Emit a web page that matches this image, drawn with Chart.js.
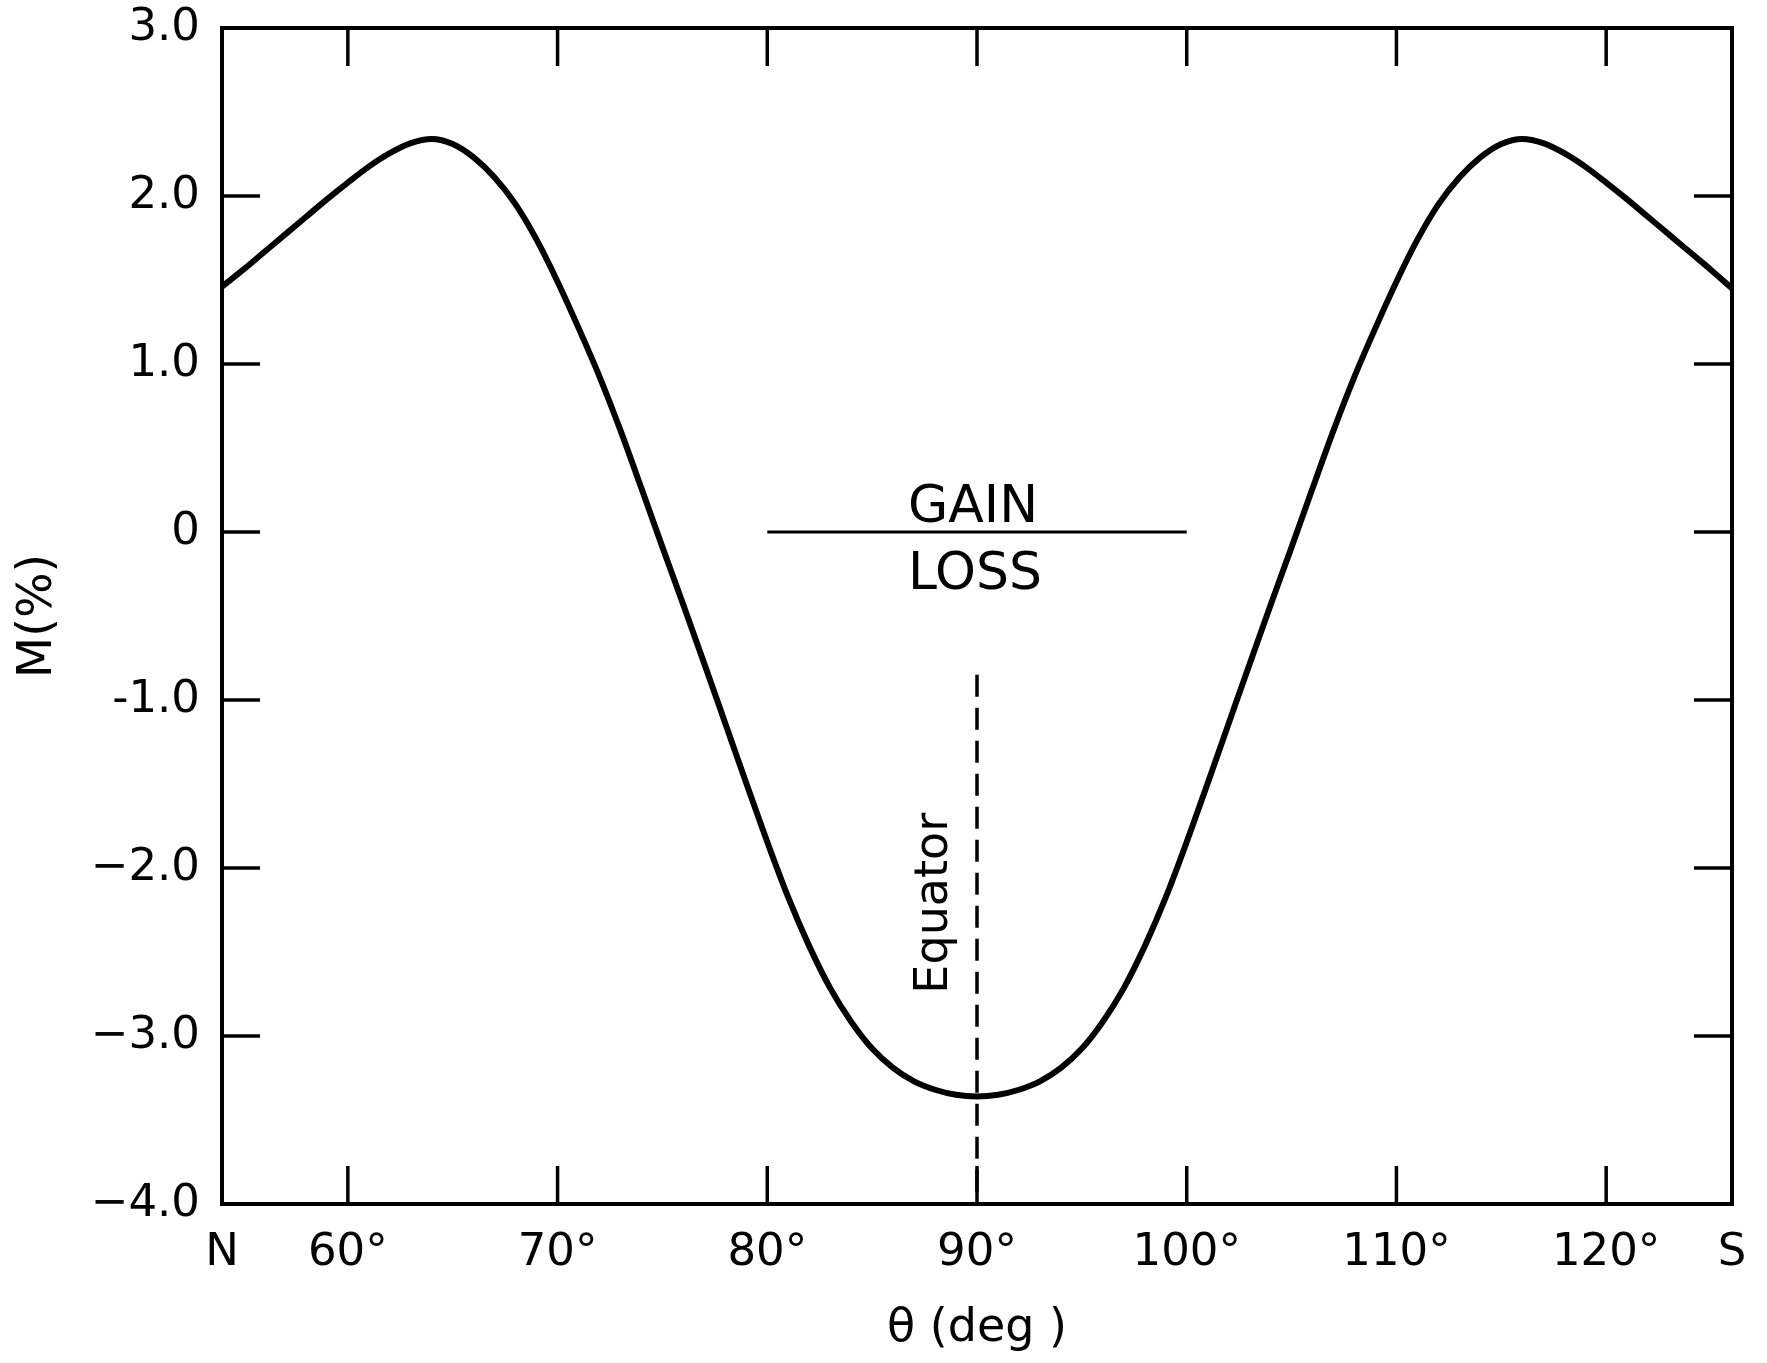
<!DOCTYPE html>
<html>
<head>
<meta charset="utf-8">
<script src="https://cdn.jsdelivr.net/npm/chart.js@4.4.0/dist/chart.umd.min.js"></script>
<style>
  html, body { margin: 0; padding: 0; background: #fff; }
  #wrap { width: 1767px; height: 1363px; }
</style>
</head>
<body>
<div id="wrap"><canvas id="chart" width="1767" height="1363"></canvas></div>
<script>
// theta (deg) and M (%)
const theta = [54, 55, 56, 57, 58, 59, 60, 61, 62, 63, 64, 65, 66, 67, 68, 69, 70, 71, 72, 73, 74, 75, 76, 77, 78, 79, 80, 81, 82, 83, 84, 85, 86, 87, 88, 89, 90,
  91, 92, 93, 94, 95, 96, 97, 98, 99, 100, 101, 102, 103, 104, 105, 106, 107, 108, 109, 110, 111, 112, 113, 114, 115, 116, 117, 118, 119, 120, 121, 122, 123, 124, 125, 126];
const mPercent = [1.46, 1.56, 1.665, 1.77, 1.875, 1.98, 2.08, 2.175, 2.255, 2.315, 2.34, 2.31, 2.23, 2.11, 1.95, 1.74, 1.49, 1.215, 0.925, 0.605, 0.26, -0.09, -0.435, -0.785, -1.14, -1.495, -1.845, -2.175, -2.465, -2.715, -2.915, -3.075, -3.19, -3.27, -3.32, -3.35, -3.36,
  -3.35, -3.32, -3.27, -3.19, -3.075, -2.915, -2.715, -2.465, -2.175, -1.845, -1.495, -1.14, -0.785, -0.435, -0.09, 0.26, 0.605, 0.925, 1.215, 1.49, 1.74, 1.95, 2.11, 2.23, 2.31, 2.34, 2.315, 2.255, 2.175, 2.08, 1.98, 1.875, 1.77, 1.665, 1.56, 1.45];

const xTickValues = [54, 60, 70, 80, 90, 100, 110, 120, 126];
const xTickLabels = ["N", "60°", "70°", "80°", "90°", "100°", "110°", "120°", "S"];
const yTickValues = [-4, -3, -2, -1, 0, 1, 2, 3];
const yTickLabels = ["\u22124.0", "\u22123.0", "\u22122.0", "-1.0", "0", "1.0", "2.0", "3.0"];

const gainLossX = [80, 100];
const gainLossY = [0, 0];
const equatorX = [90, 90];
const equatorY = [-0.85, -4.0];

const FONT = "'DejaVu Sans', sans-serif";

const toPoints = (xs, ys) => xs.map((x, i) => ({ x: x, y: ys[i] }));

// frame, inward ticks and the text notes
const framePlugin = {
  id: "frame",
  afterDatasetsDraw(chart) {
    const { ctx, chartArea: a, scales } = chart;
    const xs = scales.x, ys = scales.y;
    const tickLen = 38;
    ctx.save();
    ctx.strokeStyle = "#000";
    ctx.lineWidth = 4;
    ctx.strokeRect(a.left, a.top, a.right - a.left, a.bottom - a.top);

    ctx.lineWidth = 3.5;
    ctx.beginPath();
    xTickValues.slice(1, -1).forEach((v) => {
      const px = xs.getPixelForValue(v);
      ctx.moveTo(px, a.bottom);
      ctx.lineTo(px, a.bottom - tickLen);
      ctx.moveTo(px, a.top);
      ctx.lineTo(px, a.top + tickLen);
    });
    yTickValues.slice(1, -1).forEach((v) => {
      const py = ys.getPixelForValue(v);
      ctx.moveTo(a.left, py);
      ctx.lineTo(a.left + tickLen, py);
      ctx.moveTo(a.right, py);
      ctx.lineTo(a.right - tickLen, py);
    });
    ctx.stroke();

    ctx.fillStyle = "#000";
    ctx.textAlign = "center";
    ctx.font = "52px " + FONT;
    const cx = xs.getPixelForValue(90);
    const y0 = ys.getPixelForValue(0);
    ctx.textBaseline = "alphabetic";
    ctx.fillText("GAIN", cx - 4, y0 - 10);
    ctx.textBaseline = "top";
    ctx.fillText("LOSS", cx - 2, y0 + 17);

    ctx.font = "46px " + FONT;
    ctx.translate(cx - 42, ys.getPixelForValue(-2.21));
    ctx.rotate(-Math.PI / 2);
    ctx.textBaseline = "middle";
    ctx.fillText("Equator", 0, 0);
    ctx.restore();
  },
};

new Chart(document.getElementById("chart"), {
  type: "line",
  data: {
    datasets: [
      {
        data: toPoints(theta, mPercent),
        borderColor: "#000",
        borderWidth: 6,
        pointRadius: 0,
        cubicInterpolationMode: "monotone",
      },
      {
        data: toPoints(gainLossX, gainLossY),
        borderColor: "#000",
        borderWidth: 3,
        pointRadius: 0,
      },
      {
        data: toPoints(equatorX, equatorY),
        borderColor: "#000",
        borderWidth: 3.5,
        borderDash: [22, 11],
        pointRadius: 0,
      },
    ],
  },
  options: {
    responsive: false,
    animation: false,
    layout: { padding: { top: 28, right: 35, left: 0, bottom: 0 } },
    plugins: { legend: { display: false }, tooltip: { enabled: false } },
    scales: {
      x: {
        type: "linear",
        min: 54,
        max: 126,
        afterBuildTicks: (scale) => { scale.ticks = xTickValues.map((v) => ({ value: v })); },
        afterFit: (scale) => {
          scale.height = 159;
          scale.paddingLeft = 0;
          scale.paddingRight = 0;
        },
        grid: { display: false, drawTicks: false },
        border: { display: false },
        ticks: {
          autoSkip: false,
          maxRotation: 0,
          padding: 22,
          color: "#000",
          font: { family: FONT, size: 45 },
          callback: (v) => xTickLabels[xTickValues.indexOf(v)],
        },
        title: {
          display: true,
          text: "\u03B8 (deg )",
          color: "#000",
          font: { family: FONT, size: 46 },
          padding: { top: 0, bottom: 6 },
        },
      },
      y: {
        min: -4,
        max: 3,
        afterBuildTicks: (scale) => { scale.ticks = yTickValues.map((v) => ({ value: v })); },
        afterFit: (scale) => {
          scale.width = 222;
          scale.paddingTop = 0;
          scale.paddingBottom = 0;
        },
        grid: { display: false, drawTicks: false },
        border: { display: false },
        ticks: {
          padding: 22,
          color: "#000",
          font: { family: FONT, size: 45 },
          callback: (v) => yTickLabels[yTickValues.indexOf(v)],
        },
        title: {
          display: true,
          text: "M(%)",
          color: "#000",
          font: { family: FONT, size: 48 },
          padding: { top: 10, bottom: 0 },
        },
      },
    },
  },
  plugins: [framePlugin],
});
</script>
</body>
</html>
